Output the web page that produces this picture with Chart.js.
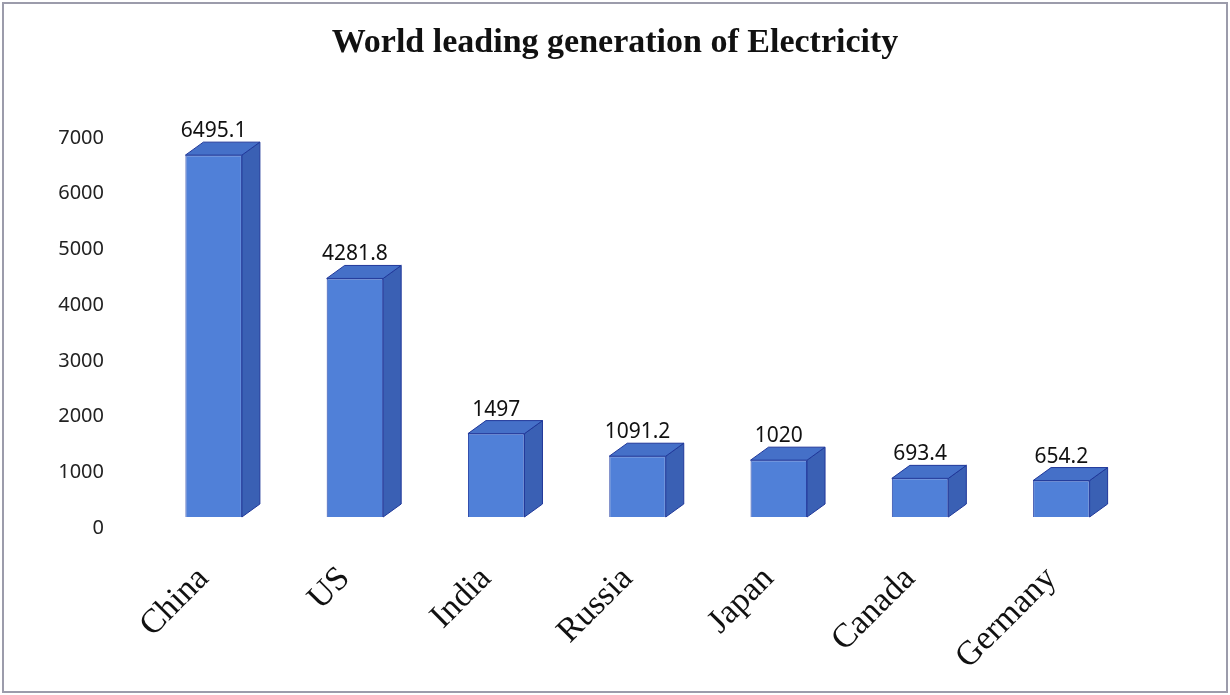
<!DOCTYPE html>
<html>
<head>
<meta charset="utf-8">
<script src="https://cdn.jsdelivr.net/npm/chart.js@4/dist/chart.umd.min.js"></script>
<style>
  html, body { margin: 0; padding: 0; background: #ffffff; }
  #wrap { width: 1230px; height: 695px; }
</style>
</head>
<body>
<div id="wrap"><canvas id="chart" width="1230" height="695"></canvas></div>
<script>
// data
const countries = ["China", "US", "India", "Russia", "Japan", "Canada", "Germany"];
const generation = [6495.1, 4281.8, 1497, 1091.2, 1020, 693.4, 654.2];
const yTicks = [0, 1000, 2000, 3000, 4000, 5000, 6000, 7000];

const chartTitle = "World leading generation of Electricity";

// depth of the fake 3D box
const DX = 18;
const DY = 13;

// frame + title
const framePlugin = {
  id: "frame",
  beforeDraw(chart) {
    const ctx = chart.ctx;
    ctx.save();
    ctx.fillStyle = "#ffffff";
    ctx.fillRect(0, 0, chart.width, chart.height);
    ctx.strokeStyle = "#9c9cab";
    ctx.lineWidth = 2;
    ctx.strokeRect(3, 3, chart.width - 6, chart.height - 6);
    ctx.fillStyle = "#111111";
    ctx.font = "bold 34px 'Liberation Serif', 'DejaVu Serif', serif";
    ctx.textAlign = "center";
    ctx.textBaseline = "middle";
    ctx.fillText(chartTitle, chart.width / 2, 43);
    ctx.restore();
  }
};

// side + top faces, and the value labels
const boxPlugin = {
  id: "box3d",
  afterDatasetsDraw(chart) {
    const ctx = chart.ctx;
    const meta = chart.getDatasetMeta(0);
    ctx.save();
    meta.data.forEach((bar, i) => {
      const p = bar.getProps(["x", "y", "base", "width"], true);
      const left = p.x - p.width / 2;
      const right = p.x + p.width / 2;
      const top = p.y;
      const base = p.base;

      // side
      ctx.beginPath();
      ctx.moveTo(right, top);
      ctx.lineTo(right + DX, top - DY);
      ctx.lineTo(right + DX, base - DY);
      ctx.lineTo(right, base);
      ctx.closePath();
      ctx.fillStyle = "#3a60b4";
      ctx.fill();
      ctx.strokeStyle = "#20389a";
      ctx.lineWidth = 1;
      ctx.stroke();

      // top
      ctx.beginPath();
      ctx.moveTo(left, top);
      ctx.lineTo(left + DX, top - DY);
      ctx.lineTo(right + DX, top - DY);
      ctx.lineTo(right, top);
      ctx.closePath();
      ctx.fillStyle = "#4570c8";
      ctx.fill();
      ctx.stroke();

      // value
      ctx.fillStyle = "#111111";
      ctx.font = "21px 'Noto Sans', sans-serif";
      ctx.textAlign = "center";
      ctx.textBaseline = "alphabetic";
      ctx.fillText(String(generation[i]), p.x, top - DY - 5);
    });
    ctx.restore();
  }
};

const ctx = document.getElementById("chart").getContext("2d");
new Chart(ctx, {
  type: "bar",
  data: {
    labels: countries,
    datasets: [{
      label: "Generation",
      data: generation,
      backgroundColor: "#5080d8",
      borderColor: "#2a45a8",
      borderWidth: 1,
      barPercentage: 0.4,
      categoryPercentage: 1.0
    }]
  },
  options: {
    responsive: false,
    animation: false,
    layout: { padding: { left: 50, right: 98, top: 127, bottom: 0 } },
    plugins: {
      legend: { display: false },
      title: { display: false },
      tooltip: { enabled: false }
    },
    scales: {
      x: {
        grid: { display: false, drawTicks: false },
        border: { display: false },
        ticks: {
          color: "#111111",
          font: { family: "'Liberation Serif', 'DejaVu Serif', serif", size: 34 },
          minRotation: 45,
          maxRotation: 45,
          padding: 42,
          labelOffset: -10
        },
        afterFit(scale) { scale.height = 178; }
      },
      y: {
        min: 0,
        max: 7000,
        afterBuildTicks(scale) { scale.ticks = yTicks.map(v => ({ value: v })); },
        grid: { display: false, drawTicks: false },
        border: { display: false },
        ticks: {
          color: "#222222",
          font: { family: "'Noto Sans', sans-serif", size: 20 },
          padding: 39,
          labelOffset: 11,
          callback: (v) => String(v)
        },
        afterFit(scale) { scale.width = 93; }
      }
    }
  },
  plugins: [framePlugin, boxPlugin]
});
</script>
</body>
</html>
